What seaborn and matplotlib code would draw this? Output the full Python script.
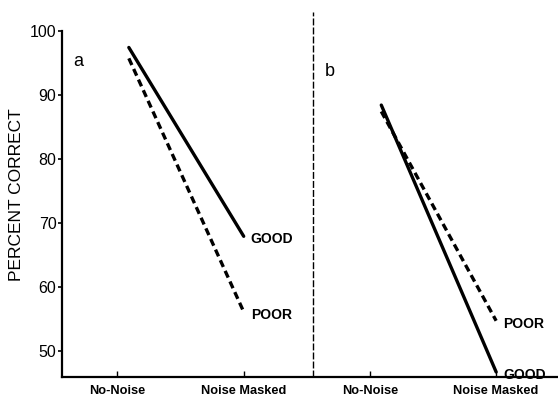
import matplotlib
matplotlib.use("Agg")
import matplotlib.pyplot as plt
import pandas as pd
import seaborn as sns

# Values
conditions = ["No-Noise", "Noise Masked", "No-Noise", "Noise Masked"]
condition_pos = [0, 1, 2, 3]
panels = ["a", "b"]
good_a = [97.5, 68.0]
poor_a = [95.8, 56.2]
good_b = [88.5, 46.8]
poor_b = [87.5, 54.8]
y_ticks = [50, 60, 70, 80, 90, 100]

rows = []
for panel, start, good, poor in [("a", 0, good_a, poor_a), ("b", 2, good_b, poor_b)]:
    for i in range(2):
        rows.append({"panel": panel, "x": condition_pos[start + i], "group": "GOOD", "pct": good[i]})
        rows.append({"panel": panel, "x": condition_pos[start + i], "group": "POOR", "pct": poor[i]})
df = pd.DataFrame(rows)
# lines begin a little to the right of the No-Noise tick in the original
df.loc[df["x"].isin([0, 2]), "x"] += 0.09

sns.set_style("ticks")
plt.rcParams["font.family"] = ["Liberation Sans", "DejaVu Sans"]
plt.rcParams.update({"text.color": "black", "axes.labelcolor": "black",
                     "xtick.color": "black", "ytick.color": "black",
                     "axes.edgecolor": "black"})

fig = plt.figure(figsize=(5.58, 4.09), dpi=100)
ax = fig.add_axes([0.111, 0.078, 0.889, 0.892])

styles = {"GOOD": dict(linestyle="-"), "POOR": dict(linestyle=(0, (2.2, 1.3)))}
for panel in panels:
    for group in ["GOOD", "POOR"]:
        sub = df[(df["panel"] == panel) & (df["group"] == group)]
        sns.lineplot(data=sub, x="x", y="pct", color="black", linewidth=2.4,
                     estimator=None, ax=ax, **styles[group])
        end = sub.iloc[-1]
        ax.annotate(group, (end["x"], end["pct"]), xytext=(5, -2),
                    textcoords="offset points", fontsize=10, fontweight="bold",
                    va="center", ha="left")

# divider between the two panels
ax.axvline(1.55, ymin=0, ymax=1.0, color="black", linewidth=1,
           linestyle=(0, (5, 1.5)), clip_on=False)

ax.text(-0.31, 95.3, "a", fontsize=13, ha="center", va="center")
ax.text(1.68, 93.8, "b", fontsize=13, ha="center", va="center")

ax.set_xlim(-0.44, 3.49)
ax.set_ylim(46, 103)
ax.set_xticks(condition_pos)
ax.set_xticklabels(conditions, fontsize=9.2, fontweight="bold")
ax.set_yticks(y_ticks)
ax.set_yticklabels([str(v) for v in y_ticks], fontsize=11.5)
ax.tick_params(axis="x", direction="in", length=4, width=1, pad=6)
ax.tick_params(axis="y", direction="out", length=3, width=1.2, pad=1)
ax.set_xlabel("")
ax.set_ylabel("PERCENT CORRECT", fontsize=12.5, labelpad=4)

sns.despine(ax=ax)
ax.spines["left"].set_bounds(46, 100)
ax.spines["left"].set_linewidth(1.6)
ax.spines["bottom"].set_linewidth(1.6)

fig.savefig("out.png", dpi=100)
